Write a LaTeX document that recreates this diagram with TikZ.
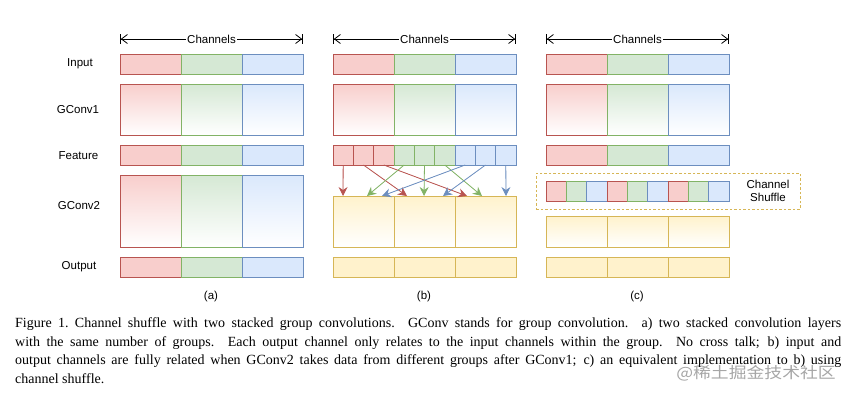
\documentclass[tikz,border=0pt]{standalone}
\usepackage{fontspec}
\setmainfont{Liberation Serif}
\setsansfont{Liberation Sans}
\newfontfamily\cjk{Noto Sans CJK SC}
\usetikzlibrary{arrows.meta}
\definecolor{rl}{HTML}{B85450}\definecolor{rf}{HTML}{F8CECC}
\definecolor{gl}{HTML}{82B366}\definecolor{gf}{HTML}{D5E8D4}
\definecolor{bl}{HTML}{6C8EBF}\definecolor{bf}{HTML}{DAE8FC}
\definecolor{yl}{HTML}{D6B656}\definecolor{yf}{HTML}{FFF2CC}
\tikzset{
  cell/.style={draw, line width=0.8pt, inner sep=0pt, outer sep=0pt, anchor=north west, minimum width=61pt},
  solid/.style={fill=#1},
  grad/.style={top color=#1, bottom color=white},
  lbl/.style={font=\sffamily\fontsize{11.5}{13.5}\selectfont, inner sep=0pt},
  chan/.style={line width=0.8pt, {Bar[width=10pt,sep=0pt]Straight Barb[length=6pt,width=9pt]}-{Straight Barb[length=6pt,width=9pt,sep=0pt]Bar[width=10pt]}},
  conn/.style={line width=0.8pt, -{Stealth[length=9pt,width=9pt,inset=3pt]}},
  sub/.style={cell, minimum width=20.33pt, minimum height=20pt},
}
% #1 prefix, #2 x, #3 y, #4 height, #5 mode, #6 #7 #8 colour letters
\newcommand\rowthree[8]{%
  \node[cell, draw=#6l, #5=#6f, minimum height=#4] (#1-0) at (#2,#3) {};
  \node[cell, draw=#7l, #5=#7f, minimum height=#4] (#1-1) at (#2+61,#3) {};
  \node[cell, draw=#8l, #5=#8f, minimum height=#4] (#1-2) at (#2+122,#3) {};
}
\begin{document}
\begin{tikzpicture}[x=1pt,y=-1pt]
\useasboundingbox (0,0) rectangle (850,397);
% row labels
\node[lbl] (lIn) at (80,64) {Input};
\node[lbl] (lG1) at (78,110) {GConv1};
\node[lbl] (lFe) at (78.5,156) {Feature};
\node[lbl] (lG2) at (79,206) {GConv2};
\node[lbl] (lOut) at (79,267) {Output};
% channels arrows
\foreach \p/\x in {a/120,b/333,c/546}{
  \coordinate (\p L) at (\x,39);
  \coordinate (\p R) at (\x+183,39);
  \draw[chan] (\p L) -- (\p R) node[midway, lbl, fill=white, inner xsep=1pt, inner ysep=2pt] (\p ch) {Channels};
}
% panel (a)
\rowthree{aIn}{120}{54}{20pt}{solid}{r}{g}{b}
\rowthree{aGa}{120}{84}{51pt}{grad}{r}{g}{b}
\rowthree{aFe}{120}{145}{20pt}{solid}{r}{g}{b}
\rowthree{aGb}{120}{175}{72pt}{grad}{r}{g}{b}
\rowthree{aOut}{120}{257}{20pt}{solid}{r}{g}{b}
% panel (b)
\rowthree{bIn}{333}{54}{20pt}{solid}{r}{g}{b}
\rowthree{bGa}{333}{84}{51pt}{grad}{r}{g}{b}
\foreach \i/\k in {0/r,1/r,2/r,3/g,4/g,5/g,6/b,7/b,8/b}{
  \node[sub, draw=\k l, fill=\k f] (bFe\i) at ({333+20.33*\i},145) {};
}
\rowthree{bGb}{333}{196}{51pt}{grad}{y}{y}{y}
\rowthree{bOut}{333}{257}{20pt}{solid}{y}{y}{y}
\foreach \i/\k/\t in {0/r/343,1/r/407,2/r/467,3/g/367,4/g/424,5/g/482,6/b/382,7/b/443,8/b/506}{
  \coordinate (bT\i) at (\t,196);
  \draw[conn, draw=\k l, fill=\k l] (bFe\i.south) -- (bT\i);
}
% panel (c)
\rowthree{cIn}{546}{54}{20pt}{solid}{r}{g}{b}
\rowthree{cGa}{546}{84}{51pt}{grad}{r}{g}{b}
\rowthree{cFe}{546}{145}{20pt}{solid}{r}{g}{b}
\node[draw=yl, line width=0.8pt, dash pattern=on 2.5pt off 2pt, anchor=north west, inner sep=0pt, minimum width=264pt, minimum height=36pt] (cBox) at (536,173) {};
\foreach \i/\k in {0/r,1/g,2/b,3/r,4/g,5/b,6/r,7/g,8/b}{
  \node[sub, draw=\k l, fill=\k f] (cSh\i) at ({546+20.33*\i},181) {};
}
\node[lbl, align=center] (cShl) at (768,191) {Channel\\Shuffle};
\rowthree{cGb}{546}{216}{31pt}{grad}{y}{y}{y}
\rowthree{cOut}{546}{257}{20pt}{solid}{y}{y}{y}
% sub-labels
\node[lbl] (la) at (211,297) {(a)};
\node[lbl] (lb) at (424,297) {(b)};
\node[lbl] (lc) at (637,297) {(c)};
% caption
\node[anchor=north west, inner sep=0pt, text width=826pt, align=justify, font=\fontsize{14}{18.5}\selectfont] (cap) at (15,317.5) {Figure 1.\ Channel shuffle with two stacked group convolutions. GConv stands for group convolution. a) two stacked convolution layers\linebreak with the same number of groups. Each output channel only relates to the input channels within the group. No cross talk; b) input and\linebreak output channels are fully related when GConv2 takes data from different groups after GConv1; c) an equivalent implementation to b) using\linebreak channel shuffle.};
% watermark
\node[text=black!35, inner sep=0pt] (wm) at (756,373) {\scalebox{1.15}[1]{\cjk\fontsize{15.5}{16}\selectfont @稀土掘金技术社区}};
\end{tikzpicture}
\end{document}
